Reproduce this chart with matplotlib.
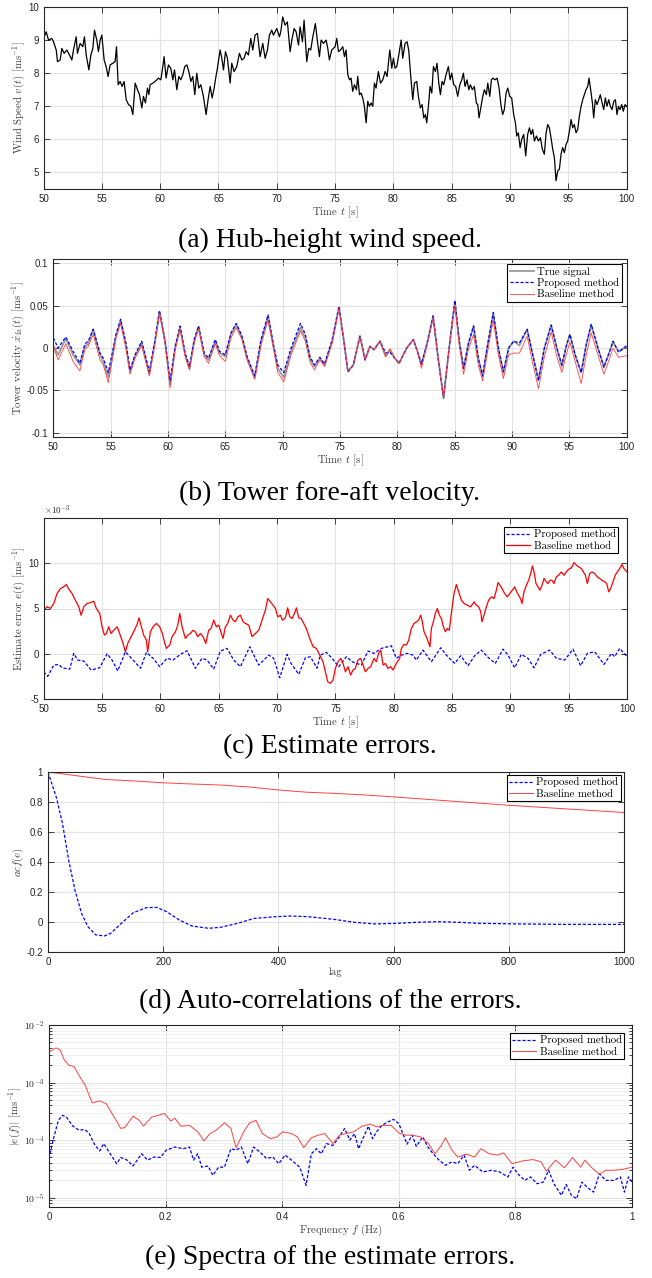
import matplotlib
matplotlib.use('Agg')
import matplotlib.pyplot as plt
from matplotlib.ticker import FuncFormatter, LogLocator, NullFormatter
import numpy as np

plt.rcParams['mathtext.fontset'] = 'cm'
plt.rcParams['axes.unicode_minus'] = False
plt.rcParams['font.family'] = ['Liberation Sans', 'DejaVu Sans']

# ---------------- (a) hub-height wind speed ----------------
wind_t = [50.00, 50.23, 50.43, 50.71, 50.86, 51.09, 51.20, 51.43, 51.57, 51.77,
          52.00, 52.23, 52.43, 52.57, 52.80, 52.91, 53.14, 53.37, 53.51, 53.66,
          53.89, 54.06, 54.23, 54.37, 54.57, 54.71, 54.86, 55.00, 55.20, 55.37,
          55.54, 55.71, 55.94, 56.14, 56.26, 56.40, 56.57, 56.74, 56.91, 57.09,
          57.29, 57.49, 57.66, 57.86, 58.06, 58.23, 58.43, 58.57, 58.74, 58.91,
          59.03, 59.14, 59.37, 59.57, 59.86, 60.06, 60.23, 60.34, 60.51, 60.71,
          60.91, 61.09, 61.23, 61.43, 61.60, 61.77, 61.94, 62.11, 62.29, 62.46,
          62.63, 62.80, 62.97, 63.14, 63.31, 63.49, 63.71, 63.94, 64.11, 64.29,
          64.46, 64.63, 64.74, 64.91, 65.14, 65.29, 65.43, 65.60, 65.77, 66.00,
          66.14, 66.34, 66.57, 66.80, 67.00, 67.20, 67.37, 67.57, 67.77, 67.94,
          68.14, 68.34, 68.57, 68.80, 69.00, 69.20, 69.37, 69.57, 69.71, 70.00,
          70.23, 70.34, 70.51, 70.71, 70.91, 71.14, 71.29, 71.49, 71.66, 71.86,
          72.00, 72.20, 72.34, 72.57, 72.74, 72.91, 73.09, 73.31, 73.49, 73.66,
          73.80, 74.00, 74.23, 74.37, 74.51, 74.71,
          75.00, 75.14, 75.29, 75.46, 75.66, 75.80, 75.94, 76.09, 76.23, 76.37,
          76.51, 76.66, 76.83, 76.94, 77.09, 77.23, 77.37, 77.51, 77.66, 77.80,
          77.94, 78.09, 78.23, 78.37, 78.51, 78.71, 78.89, 79.09, 79.29, 79.46,
          79.57, 79.69, 79.86, 80.00, 80.14, 80.29, 80.46, 80.66, 80.80, 81.00,
          81.17, 81.31, 81.51, 81.66, 81.80, 82.00, 82.14, 82.31, 82.46, 82.60,
          82.74, 82.86, 83.00, 83.14, 83.29, 83.43, 83.60, 83.74, 83.89, 84.03,
          84.17, 84.31, 84.51, 84.71, 84.86, 85.00, 85.17, 85.34, 85.51, 85.69,
          85.86, 86.00, 86.14, 86.31, 86.46, 86.60, 86.77, 86.94, 87.11, 87.23,
          87.34, 87.51, 87.66, 87.80, 87.97, 88.09, 88.26, 88.40, 88.54, 88.71,
          88.89, 89.06, 89.23, 89.37, 89.51, 89.66, 89.80, 89.97, 90.14, 90.31,
          90.46, 90.57, 90.71, 90.86, 91.00, 91.17, 91.34, 91.51, 91.66, 91.80,
          91.94, 92.09, 92.26, 92.43, 92.60, 92.77, 92.94, 93.09, 93.23, 93.37,
          93.51, 93.66, 93.80, 93.94, 94.09, 94.23, 94.37, 94.51, 94.66, 94.80,
          94.94, 95.09, 95.23, 95.37, 95.51, 95.66, 95.80, 95.94, 96.09, 96.23,
          96.37, 96.51, 96.66, 96.77, 96.91, 97.06, 97.17, 97.31, 97.46, 97.60,
          97.74, 97.86, 98.03, 98.17, 98.31, 98.46, 98.60, 98.74, 98.89, 99.03,
          99.17, 99.29, 99.43, 99.57, 99.71, 99.86, 100.0]
wind_v = [9.05, 9.25, 9.0, 9.05, 8.95, 8.7, 8.35, 8.4, 8.75, 8.6,
          8.7, 8.55, 8.4, 8.7, 9.1, 8.6, 8.9, 8.8, 9.1, 8.55,
          8.1, 8.55, 8.75, 9.3, 9.0, 8.65, 9.0, 9.15, 8.4, 8.2,
          7.9, 8.25, 8.3, 8.35, 8.8, 7.65, 7.75, 7.6, 7.75, 7.2,
          7.05, 7.0, 6.75, 7.7, 7.5, 7.35, 6.95, 7.3, 7.1, 7.55,
          7.35, 7.65, 7.7, 7.75, 7.85, 7.8, 8.2, 8.5, 7.85, 8.25,
          8.15, 7.8, 8.1, 7.5, 7.9, 7.8, 7.95, 8.2, 8.25, 8.05,
          7.75, 7.9, 7.35, 8.0, 7.55, 7.65, 7.3, 6.75, 7.2, 7.6,
          7.25, 7.55, 7.8, 8.15, 8.7, 8.45, 8.1, 8.65, 8.45, 7.7,
          8.3, 8.05, 8.2, 8.6, 8.4, 8.45, 8.65, 8.55, 9.05, 8.7,
          9.15, 9.2, 8.5, 8.9, 8.45, 8.7, 9.15, 9.3, 9.15, 9.35,
          9.1, 9.25, 9.7, 9.45, 9.55, 8.65, 9.0, 9.35, 9.25, 8.85,
          9.4, 8.95, 9.6, 8.35, 8.75, 8.7, 9.1, 9.5, 8.95, 8.5,
          9.0, 8.9, 9.0, 8.75, 8.4, 8.7,
          8.8, 9.05, 8.65, 8.7, 8.8, 8.5, 8.7, 7.95, 7.8, 7.85,
          7.45, 7.65, 7.5, 7.9, 7.35, 7.4, 7.25, 7.0, 6.5, 7.15,
          7.0, 7.1, 7.0, 7.7, 7.55, 8.05, 7.7, 7.8, 8.05, 7.9,
          8.3, 8.7, 8.15, 8.45, 8.15, 8.2, 8.55, 9.0, 8.45, 8.9,
          8.95, 8.7, 7.8, 7.2, 7.7, 7.75, 7.3, 6.95, 7.05, 6.65,
          6.75, 6.5, 7.0, 7.6, 7.4, 8.2, 8.05, 8.3, 7.7, 7.35,
          7.75, 7.65, 7.95, 8.2, 7.8, 8.0, 7.65, 7.6, 7.3, 7.65,
          7.8, 8.0, 7.6, 7.8, 7.5, 7.65, 7.5, 7.6, 7.1, 7.05,
          6.65, 7.0, 7.3, 7.5, 7.35, 7.7, 7.3, 7.8, 7.85, 7.8,
          7.85, 7.55, 7.0, 6.75, 6.9, 7.4, 7.55, 7.3, 7.25, 6.75,
          6.5, 6.1, 6.2, 5.75, 6.0, 6.15, 5.5, 6.15, 6.35, 6.15,
          6.3, 5.95, 6.1, 5.95, 6.05, 5.7, 5.55, 6.2, 6.45, 6.35,
          6.05, 5.7, 5.45, 4.75, 5.05, 5.1, 5.55, 5.75, 5.6, 5.85,
          5.95, 6.25, 6.6, 6.35, 6.45, 6.2, 6.3, 6.7, 7.0, 7.2,
          7.35, 7.5, 7.6, 7.85, 7.5, 7.1, 6.65, 7.2, 7.05, 7.2,
          7.35, 7.15, 6.9, 7.25, 7.0, 7.2, 7.0, 6.9, 7.15, 7.2,
          6.75, 7.0, 6.9, 7.05, 6.85, 7.05, 7.0]

# ---------------- (b) tower fore-aft velocity ----------------
vel_t = [50.00, 50.42, 51.09, 51.73, 52.32, 52.76, 53.05, 53.48, 54.07, 54.36,
         54.80, 55.47, 55.87, 56.34, 56.69, 57.13, 57.71, 58.38, 58.88, 59.26,
         59.75, 60.19, 60.63, 61.06, 61.50, 61.88, 62.29, 62.67, 63.16, 63.54,
         64.13, 64.50, 65.00, 65.50, 65.96, 66.46, 66.90, 67.57, 68.12, 68.73,
         69.23, 69.58, 70.10, 70.74, 71.56, 71.99, 72.38, 72.78, 73.25, 73.66,
         74.33, 74.92, 75.35, 75.70, 76.17, 76.75, 77.19, 77.62, 77.97, 78.50,
         78.99, 79.37, 79.78, 80.16, 80.83, 81.41, 81.76, 82.11, 82.58, 83.13,
         83.57, 84.04, 84.53, 85.03, 85.41, 85.79, 86.20, 86.66, 87.07, 87.45,
         87.89, 88.38, 88.82, 89.26, 89.72, 90.16, 90.66, 91.33, 91.82, 92.32,
         92.84, 93.43, 93.92, 94.36, 94.74, 95.06, 95.52, 96.05, 96.49, 96.92,
         97.51, 98.03, 98.53, 98.82, 99.31, 99.69, 100.0]
vel_true = [0.003, -0.008, 0.011, -0.008, -0.020, 0.002, 0.005, 0.022, -0.008, -0.016,
            -0.035, 0.014, 0.032, 0.002, -0.028, -0.010, 0.006, -0.031, 0.008, 0.043,
            0.008, -0.043, 0.000, 0.024, -0.008, -0.024, 0.008, 0.025, -0.008, -0.014,
            0.008, -0.006, -0.010, 0.016, 0.028, 0.012, -0.012, -0.035, 0.008, 0.037,
            0.000, -0.024, -0.035, -0.004, 0.024, 0.012, -0.012, -0.022, -0.012, -0.020,
            0.008, 0.048, 0.008, -0.028, -0.020, 0.014, -0.014, 0.002, -0.002, 0.008,
            -0.010, -0.002, -0.012, -0.018, 0.000, 0.010, -0.004, -0.019, 0.004, 0.037,
            -0.012, -0.059, 0.000, 0.055, 0.008, -0.024, 0.004, 0.026, -0.012, -0.033,
            0.004, 0.041, 0.000, -0.029, 0.000, 0.008, 0.003, 0.022, -0.008, -0.037,
            0.000, 0.027, 0.000, -0.022, 0.002, 0.016, -0.008, -0.029, 0.004, 0.027,
            0.000, -0.022, -0.004, 0.007, -0.004, -0.001, 0.001]
vel_prop = [0.012, 0.000, 0.013, -0.004, -0.018, 0.005, 0.008, 0.022, -0.006, -0.012,
            -0.029, 0.016, 0.034, 0.006, -0.026, -0.008, 0.008, -0.028, 0.010, 0.044,
            0.008, -0.039, 0.002, 0.026, -0.006, -0.022, 0.010, 0.026, -0.006, -0.012,
            0.010, -0.004, -0.008, 0.018, 0.029, 0.014, -0.010, -0.033, 0.010, 0.039,
            0.002, -0.020, -0.029, 0.000, 0.029, 0.016, -0.010, -0.020, -0.011, -0.019,
            0.010, 0.049, 0.008, -0.028, -0.020, 0.014, -0.014, 0.002, -0.002, 0.008,
            -0.006, -0.005, -0.012, -0.018, 0.000, 0.010, -0.004, -0.019, 0.004, 0.038,
            -0.012, -0.059, 0.000, 0.056, 0.008, -0.024, 0.005, 0.026, -0.012, -0.033,
            0.004, 0.042, 0.000, -0.028, 0.000, 0.008, 0.006, 0.022, -0.008, -0.039,
            0.000, 0.027, 0.000, -0.020, 0.002, 0.016, -0.008, -0.029, 0.004, 0.028,
            0.000, -0.023, -0.004, 0.008, -0.005, -0.001, 0.003]
vel_base = [0.002, -0.014, 0.005, -0.016, -0.027, -0.001, 0.002, 0.016, -0.014, -0.020,
            -0.041, 0.012, 0.029, 0.000, -0.031, -0.012, 0.003, -0.033, 0.006, 0.041,
            0.006, -0.047, -0.002, 0.022, -0.010, -0.026, 0.006, 0.023, -0.010, -0.018,
            0.005, -0.009, -0.016, 0.012, 0.024, 0.010, -0.014, -0.037, 0.003, 0.033,
            -0.002, -0.029, -0.040, -0.008, 0.020, 0.008, -0.016, -0.026, -0.014, -0.022,
            0.006, 0.047, 0.008, -0.027, -0.020, 0.013, -0.014, 0.002, -0.002, 0.008,
            -0.010, -0.001, -0.012, -0.018, 0.000, 0.010, -0.004, -0.024, 0.002, 0.036,
            -0.012, -0.059, 0.000, 0.050, 0.004, -0.031, -0.002, 0.016, -0.020, -0.039,
            -0.004, 0.033, -0.008, -0.036, -0.008, -0.006, -0.006, 0.014, -0.018, -0.048,
            -0.010, 0.019, -0.010, -0.029, -0.008, 0.007, -0.016, -0.042, -0.008, 0.018,
            -0.008, -0.031, -0.012, 0.000, -0.011, -0.010, -0.009]

# ---------------- (c) estimate errors (x 1e-3) ----------------
err_base_t = [50.00, 50.29, 50.57, 50.86, 51.14, 51.43, 51.71, 51.94, 52.14, 52.43,
              52.71, 53.00, 53.20, 53.43, 53.71, 54.00, 54.29, 54.51, 54.80, 55.00,
              55.20, 55.37, 55.57, 55.77, 56.00, 56.29, 56.51, 56.80, 57.00, 57.20,
              57.49, 57.77, 58.00, 58.17, 58.37, 58.57, 58.80, 58.91, 59.14, 59.37,
              59.66, 59.94, 60.17, 60.34, 60.51, 60.80, 61.00, 61.29, 61.49, 61.66,
              61.86, 62.14, 62.34, 62.57, 62.80, 63.00, 63.20, 63.43, 63.66, 63.89,
              64.14, 64.34, 64.57, 64.80, 65.00, 65.14, 65.37, 65.57, 65.77, 66.00,
              66.23, 66.43, 66.63, 66.86, 67.09, 67.29, 67.57, 67.86, 68.14, 68.43,
              68.71, 69.00, 69.20, 69.43, 69.66, 69.86, 70.06, 70.29, 70.46, 70.71,
              70.91, 71.09, 71.29, 71.49, 71.66, 71.86, 72.06, 72.29, 72.51, 72.80,
              73.09, 73.37, 73.66, 73.94, 74.14, 74.34, 74.57, 74.80, 75.00,
              75.23, 75.46, 75.66, 75.86, 76.09, 76.31, 76.51, 76.71, 76.94, 77.17,
              77.37, 77.57, 77.80, 78.03, 78.31, 78.51, 78.71, 78.89, 79.09, 79.29,
              79.51, 79.74, 79.94, 80.23, 80.51, 80.66, 80.89, 81.09, 81.29, 81.51,
              81.74, 81.97, 82.14, 82.31, 82.43, 82.60, 82.80, 83.00, 83.11, 83.23,
              83.40, 83.57, 83.74, 83.91, 84.09, 84.26, 84.43, 84.60, 84.77, 84.94,
              85.17, 85.37, 85.57, 85.80, 86.03, 86.31, 86.60, 86.89, 87.09, 87.29,
              87.46, 87.57, 87.74, 87.94, 88.14, 88.37, 88.60, 88.80, 88.94, 89.11,
              89.29, 89.51, 89.74, 89.94, 90.17, 90.37, 90.54, 90.71, 90.89, 91.00,
              91.17, 91.37, 91.57, 91.74, 91.89, 92.03, 92.20, 92.37, 92.54, 92.71,
              92.89, 93.09, 93.23, 93.40, 93.57, 93.74, 93.94, 94.14, 94.37, 94.60,
              94.80, 95.00, 95.23, 95.46, 95.66, 95.86, 96.09, 96.26, 96.43, 96.60,
              96.80, 97.00, 97.23, 97.46, 97.66, 97.86, 98.09, 98.26, 98.43, 98.60,
              98.80, 99.00, 99.17, 99.37, 99.57, 99.74, 100.0]
err_base = [4.8, 5.2, 5.0, 5.55, 6.65, 7.2, 7.4, 7.65, 7.15, 6.65,
            5.9, 5.2, 4.25, 5.2, 5.55, 5.65, 5.8, 5.0, 4.45, 2.98,
            2.06, 2.24, 2.98, 2.24, 2.6, 2.98, 2.24, 1.14, 0.22, 1.14,
            1.88, 2.6, 3.24, 3.97, 2.98, 2.06, 1.51, 0.22, 2.43, 2.98,
            3.35, 2.98, 2.24, 1.32, 0.59, 0.96, 1.88, 2.43, 3.16, 4.45,
            2.98, 1.69, 2.06, 2.24, 2.6, 2.43, 1.88, 2.24, 1.88, 1.14,
            2.6, 2.79, 3.71, 2.98, 3.16, 2.6, 1.69, 2.98, 3.35, 4.26,
            3.71, 3.53, 4.08, 4.26, 3.53, 3.35, 3.16, 1.88, 2.24, 2.6,
            3.71, 4.82, 6.1, 5.74, 5.37, 5.0, 4.08, 4.26, 3.71, 3.97,
            5.07, 4.08, 3.9, 4.45, 5.07, 3.97, 3.9, 3.35, 2.79, 1.69,
            0.77, 0.59, -0.15, -0.88, -1.99, -3.09, -3.27, -2.9, -1.62,
            -0.88, -0.51, -1.07, -1.99, -1.43, -2.35, -1.8, -1.62, -0.7, -0.51,
            -1.25, -1.99, -1.62, -1.43, -0.51, -0.88, 0.04, 0.4, -1.25, -1.07,
            -1.62, -1.43, -1.8, -1.07, -0.51, 0.59, 1.03, 0.96, 1.51, 2.79,
            3.35, 3.53, 3.71, 4.26, 3.71, 2.43, 1.88, 1.14, 0.77, 2.79,
            3.53, 4.45, 5.0, 4.26, 3.9, 2.98, 2.43, 2.79, 2.6, 4.45,
            6.65, 7.65, 6.84, 5.92, 5.55, 5.37, 5.18, 5.74, 5.37, 5.18,
            4.63, 3.53, 4.26, 5.18, 5.92, 6.29, 6.1, 7.02, 7.87, 7.57,
            7.21, 6.65, 6.29, 6.65, 7.02, 7.39, 6.84, 6.47, 6.03, 5.55,
            6.84, 7.57, 8.12, 8.86, 9.71, 9.04, 7.76, 7.39, 7.02, 7.57,
            8.31, 7.94, 7.76, 8.12, 8.12, 7.76, 8.49, 8.68, 9.04, 8.68,
            9.04, 9.34, 9.49, 10.07, 9.78, 9.6, 9.41, 9.04, 8.68, 7.76,
            8.86, 9.04, 8.86, 8.49, 8.31, 8.12, 7.94, 7.76, 6.84, 7.21,
            7.94, 8.68, 9.04, 9.41, 9.85, 9.41, 9.04]
err_prop_t = [50.00, 50.34, 50.86, 51.29, 51.57, 52.23, 52.57, 52.91, 53.43, 54.06,
              54.80, 55.43, 55.86, 56.34, 57.00, 57.66, 58.29, 58.80, 59.37, 59.94,
              60.57, 61.09, 61.71, 62.29, 63.00, 63.57, 64.00, 64.57, 65.14, 65.71,
              66.29, 66.86, 67.66, 68.43, 69.29, 69.71, 70.23, 70.86, 71.20, 71.86,
              72.43, 72.86, 73.43, 73.71, 74.23, 74.71, 75.29, 75.94, 76.43, 77.23,
              77.80, 78.31, 78.94, 79.80, 80.23, 80.66, 81.17, 81.66, 81.94, 82.51,
              83.23, 84.03, 84.51, 85.23, 85.74, 86.37, 86.94, 87.51, 88.09, 88.71,
              89.37, 89.80, 90.37, 90.94, 91.51, 92.03, 92.60, 93.37, 93.94, 94.66,
              95.37, 96.03, 96.60, 97.23, 98.03, 98.66, 98.94, 99.37, 100.0]
err_prop = [-2.0, -2.5, -1.25, -1.18, -1.55, -1.7, 0.04, -0.7, -0.8, -1.8,
            -1.55, 0.0, -0.7, -1.9, 0.22, -0.7, -1.6, 0.15, -0.5, -1.43,
            -0.5, -0.7, -0.07, 0.33, -1.6, -0.5, -0.7, -1.7, 0.3, 0.59,
            -0.7, -1.43, 0.77, -1.25, -0.15, -0.5, -2.65, -0.07, -1.07, -2.28,
            -0.44, -0.33, -1.6, -0.15, 0.15, -0.5, -1.43, -0.33, -0.88, -1.25,
            0.3, 0.04, 0.59, 0.88, -0.5, -0.15, 0.04, -0.15, -0.7, 0.4,
            -0.88, 0.66, -0.15, -1.07, -0.22, -1.32, -0.22, 0.4, -0.4, -1.07,
            0.51, -0.15, -1.55, -0.07, -0.5, -1.55, -0.07, 0.4, -0.5, -0.7,
            0.51, -1.32, 0.04, 0.22, -1.18, 0.04, -0.33, 0.59, -0.33]

# ---------------- (d) auto-correlations ----------------
acf_prop_lag = [0, 14.5, 25, 36, 47, 58, 69, 83, 98, 109,
                127, 148, 170, 188, 206, 228, 250, 279, 300, 329,
                358, 394, 423, 452, 496, 532, 568, 604, 640, 676,
                713, 749, 821, 894, 1000]
acf_prop = [1.0, 0.83, 0.66, 0.41, 0.21, 0.06, -0.03, -0.086, -0.093, -0.075,
            -0.01, 0.062, 0.095, 0.098, 0.069, 0.013, -0.027, -0.042, -0.035, -0.009,
            0.024, 0.035, 0.04, 0.035, 0.018, -0.002, -0.013, -0.009, -0.002, 0.002,
            -0.002, -0.009, -0.013, -0.016, -0.016]
acf_base_lag = [0, 50, 100, 150, 200, 250, 300, 350, 400, 450, 500,
                550, 600, 650, 700, 750, 800, 850, 900, 950, 1000]
acf_base = [1.0, 0.975, 0.95, 0.94, 0.928, 0.92, 0.913, 0.9, 0.88, 0.865, 0.857,
            0.847, 0.834, 0.82, 0.806, 0.792, 0.778, 0.766, 0.754, 0.742, 0.73]

# ---------------- (e) spectra ----------------
spec_base_f = [0, .012, .019, .026, .034, .043, .051, .062, .074, .087,
               .098, .112, .123, .13, .144, .155, .162, .176, .187, .198,
               .209, .216, .226, .241, .255, .266, .276, .287, .301, .312,
               .321, .334, .344, .355, .366, .38, .391, .401, .416, .426,
               .437, .45, .462, .473, .487, .498, .509, .523, .537, .551,
               .562, .573, .587, .60, .612, .623, .637, .651, .662, .673,
               .68, .691, .701, .716, .73, .741, .755, .769, .78, .794,
               .812, .83, .844, .853, .869, .884, .898, .912, .919, .93,
               .944, .955, .969, .984, 1.0]
spec_base = [3.4e-3, 4.0e-3, 3.7e-3, 2.5e-3, 2.0e-3, 1.9e-3, 1.35e-3, 9.0e-4, 4.45e-4, 4.8e-4,
             4.3e-4, 2.5e-4, 1.6e-4, 1.65e-4, 2.6e-4, 2.2e-4, 1.75e-4, 2.5e-4, 2.7e-4, 2.9e-4,
             2.15e-4, 2.4e-4, 1.75e-4, 1.8e-4, 1.4e-4, 9.7e-5, 1.3e-4, 1.5e-4, 2.0e-4, 1.6e-4,
             7.4e-5, 1.4e-4, 2.0e-4, 2.2e-4, 1.3e-4, 1.06e-4, 1.14e-4, 1.4e-4, 1.3e-4, 1.14e-4,
             7.4e-5, 1.1e-4, 1.22e-4, 1.3e-4, 8.7e-5, 1.22e-4, 1.3e-4, 1.4e-4, 1.75e-4, 1.9e-4,
             1.7e-4, 1.8e-4, 1.8e-4, 1.33e-4, 1.22e-4, 1.22e-4, 1.14e-4, 8.7e-5, 5.8e-5, 8.1e-5,
             1.1e-4, 6.7e-5, 5.1e-5, 5.7e-5, 5.1e-5, 7.1e-5, 5.8e-5, 5.5e-5, 6.0e-5, 3.9e-5,
             4.35e-5, 4.6e-5, 4.2e-5, 2.9e-5, 4.5e-5, 3.3e-5, 5.0e-5, 3.4e-5, 4.5e-5, 3.4e-5,
             2.55e-5, 3.0e-5, 3.0e-5, 3.1e-5, 3.4e-5]
spec_prop_f = [0, .007, .016, .023, .03, .041, .051, .062, .069, .079,
               .087, .094, .105, .116, .123, .134, .144, .159, .169, .18,
               .191, .201, .216, .23, .241, .248, .255, .262, .273, .281,
               .291, .301, .312, .321, .33, .341, .351, .362, .373, .384,
               .394, .405, .416, .43, .441, .45, .459, .467, .476, .487,
               .498, .507, .516, .524, .531, .541, .548, .555, .562, .571,
               .581, .591, .6, .607, .614, .623, .63, .641, .65, .659,
               .669, .68, .691, .701, .712, .721, .73, .744, .759, .773,
               .787, .796, .805, .816, .826, .837, .848, .857, .866, .879,
               .887, .896, .905, .914, .923, .934, .944, .955, .969, .98,
               .987, .994, 1.0]
spec_prop = [4.8e-5, 1.0e-4, 2.2e-4, 2.7e-4, 2.5e-4, 1.75e-4, 1.5e-4, 1.52e-4, 1.3e-4, 8.1e-5,
             6.5e-5, 8.7e-5, 5.8e-5, 3.9e-5, 5.0e-5, 4.5e-5, 3.55e-5, 5.8e-5, 4.5e-5, 5.1e-5,
             5.0e-5, 6.7e-5, 7.6e-5, 7.1e-5, 7.6e-5, 4.5e-5, 5.8e-5, 3.4e-5, 3.55e-5, 2.45e-5,
             3.4e-5, 3.4e-5, 7.1e-5, 6.7e-5, 7.6e-5, 3.9e-5, 7.6e-5, 6.2e-5, 4.8e-5, 5.1e-5,
             3.9e-5, 5.5e-5, 4.5e-5, 3.4e-5, 1.64e-5, 5.8e-5, 7.1e-5, 5.8e-5, 8.7e-5, 8.1e-5,
             1.14e-4, 1.6e-4, 1.0e-4, 1.3e-4, 7.1e-5, 1.22e-4, 1.75e-4, 1.06e-4, 1.4e-4, 1.8e-4,
             2.07e-4, 2.3e-4, 1.94e-4, 1.3e-4, 8.5e-5, 1.22e-4, 7.8e-5, 1.14e-4, 7.6e-5, 5.8e-5,
             4.5e-5, 3.65e-5, 4.2e-5, 3.9e-5, 5.5e-5, 3.0e-5, 3.65e-5, 2.8e-5, 3.0e-5, 2.8e-5,
             2.3e-5, 3.4e-5, 2.55e-5, 2.0e-5, 2.3e-5, 1.75e-5, 1.87e-5, 3.0e-5, 1.75e-5, 1.1e-5,
             1.7e-5, 1.1e-5, 9.6e-6, 1.87e-5, 1.53e-5, 1.25e-5, 2.6e-5, 2.0e-5, 2.0e-5, 2.3e-5,
             1.25e-5, 2.3e-5, 1.87e-5]

W, H = 652, 1278
fig = plt.figure(figsize=(W / 100, H / 100), dpi=100)
fig.patch.set_facecolor('white')


def make_axes(left, right, top, bottom):
    return fig.add_axes([left / W, 1 - bottom / H, (right - left) / W, (bottom - top) / H])


LABEL = dict(family='cmr10', fontsize=7.8, color='#404040')
TICK_FMT = FuncFormatter(lambda v, p: '%g' % v)


def style(ax):
    for sp in ax.spines.values():
        sp.set_color('#262626')
        sp.set_linewidth(0.8)
    ax.tick_params(which='both', direction='in', top=True, right=True,
                   labelsize=7, colors='#262626', width=0.6)
    ax.tick_params(which='major', length=4)
    ax.grid(True, color='#e3e3e3', linewidth=0.8)
    ax.set_axisbelow(True)


def legend(ax, pad=0.35):
    leg = ax.legend(loc='upper right', prop={'family': 'cmr10', 'size': 7.8},
                    fancybox=False, framealpha=1, edgecolor='black',
                    borderpad=0.25, labelspacing=0.15, handlelength=2.2,
                    handletextpad=0.3, borderaxespad=pad)
    leg.get_frame().set_linewidth(0.8)
    return leg


def caption(y, text):
    fig.text(0.506, 1 - y / H, text, ha='center', va='center',
             family='Liberation Serif', fontsize=20, color='black')


def labels(ax, xl, yl):
    ax.set_xlabel(xl, labelpad=0.5, **LABEL)
    ax.set_ylabel(yl, labelpad=0.5, **LABEL)


# (a)
ax = make_axes(43.5, 626.7, 7, 189)
ax.plot(wind_t, wind_v, color='black', linewidth=0.9)
ax.set_xlim(50, 100)
ax.set_ylim(4.5, 10)
ax.set_xticks(np.arange(50, 101, 5))
ax.set_yticks([5, 6, 7, 8, 9, 10])
ax.xaxis.set_major_formatter(TICK_FMT)
ax.yaxis.set_major_formatter(TICK_FMT)
style(ax)
labels(ax, r'Time $t$ [s]', r'Wind Speed $v(t)$ [ms$^{-1}$]')
caption(240, '(a) Hub-height wind speed.')

# (b)
ax = make_axes(53.3, 626.5, 259, 437)
ax.plot(vel_t, vel_true, color='#9a9a9a', linewidth=1.3, label='True signal')
ax.plot(vel_t, vel_prop, color='#0000ff', linewidth=0.9, linestyle=(0, (2.5, 1.5)),
        label='Proposed method')
ax.plot(vel_t, vel_base, color='#ff4040', linewidth=0.6, label='Baseline method')
ax.set_xlim(50, 100)
ax.set_ylim(-0.105, 0.105)
ax.set_xticks(np.arange(50, 101, 5))
ax.set_yticks([-0.1, -0.05, 0, 0.05, 0.1])
ax.xaxis.set_major_formatter(TICK_FMT)
ax.yaxis.set_major_formatter(TICK_FMT)
style(ax)
legend(ax, 0.45)
labels(ax, r'Time $t$ [s]', r'Tower velocity $\dot{x}_{\mathrm{fa}}(t)$ [ms$^{-1}$]')
caption(493, '(b) Tower fore-aft velocity.')

# (c)
ax = make_axes(43.75, 627, 518, 699)
ax.plot(err_prop_t, err_prop, color='#0000ff', linewidth=0.9, linestyle=(0, (2.5, 1.5)),
        label='Proposed method')
ax.plot(err_base_t, err_base, color='#ff0000', linewidth=0.9, label='Baseline method')
ax.set_xlim(50, 100)
ax.set_ylim(-5, 15)
ax.set_xticks(np.arange(50, 101, 5))
ax.set_yticks([-5, 0, 5, 10])
ax.xaxis.set_major_formatter(TICK_FMT)
ax.yaxis.set_major_formatter(TICK_FMT)
style(ax)
legend(ax, 0.8)
ax.text(0.0, 1.004, r'$\mathsf{\times 10^{-3}}$', transform=ax.transAxes,
        fontsize=6.5, color='#262626', ha='left', va='bottom')
labels(ax, r'Time $t$ [s]', r'Estimate error $e(t)$ [ms$^{-1}$]')
caption(747, '(c) Estimate errors.')

# (d)
ax = make_axes(48, 624, 772, 952)
ax.plot(acf_prop_lag, acf_prop, color='#0000ff', linewidth=0.9, linestyle=(0, (2.5, 1.5)),
        label='Proposed method')
ax.plot(acf_base_lag, acf_base, color='#ff4040', linewidth=0.7, label='Baseline method')
ax.set_xlim(0, 1000)
ax.set_ylim(-0.2, 1)
ax.set_xticks(np.arange(0, 1001, 200))
ax.set_yticks([-0.2, 0, 0.2, 0.4, 0.6, 0.8, 1])
ax.xaxis.set_major_formatter(TICK_FMT)
ax.yaxis.set_major_formatter(TICK_FMT)
style(ax)
legend(ax, 0.25)
labels(ax, 'lag', r'$acf(e)$')
caption(1002, '(d) Auto-correlations of the errors.')

# (e)
ax = make_axes(49, 632, 1025, 1207)
ax.plot(spec_prop_f, spec_prop, color='#0000ff', linewidth=0.9, linestyle=(0, (2.5, 1.5)),
        label='Proposed method')
ax.plot(spec_base_f, spec_base, color='#ff4040', linewidth=0.7, label='Baseline method')
ax.set_yscale('log')
ax.set_xlim(0, 1)
ax.set_ylim(6.9e-6, 1e-2)
ax.set_xticks(np.arange(0, 1.01, 0.2))
ax.xaxis.set_major_formatter(TICK_FMT)
ax.yaxis.set_major_locator(LogLocator(base=10, numticks=10))
ax.yaxis.set_minor_locator(LogLocator(base=10, subs=np.arange(2, 10), numticks=20))
ax.yaxis.set_minor_formatter(NullFormatter())
ax.yaxis.set_major_formatter(FuncFormatter(
    lambda v, p: r'$\mathsf{10^{%d}}$' % int(round(np.log10(v)))))
style(ax)
ax.tick_params(which='minor', length=2)
ax.grid(True, which='minor', axis='y', color='#eeeeee', linewidth=0.6)
legend(ax, 0.7)
labels(ax, r'Frequency $f$ (Hz)', r'$|e(f)|$ [ms$^{-1}$]')
caption(1257, '(e) Spectra of the estimate errors.')

fig.savefig('out.png', dpi=100)
